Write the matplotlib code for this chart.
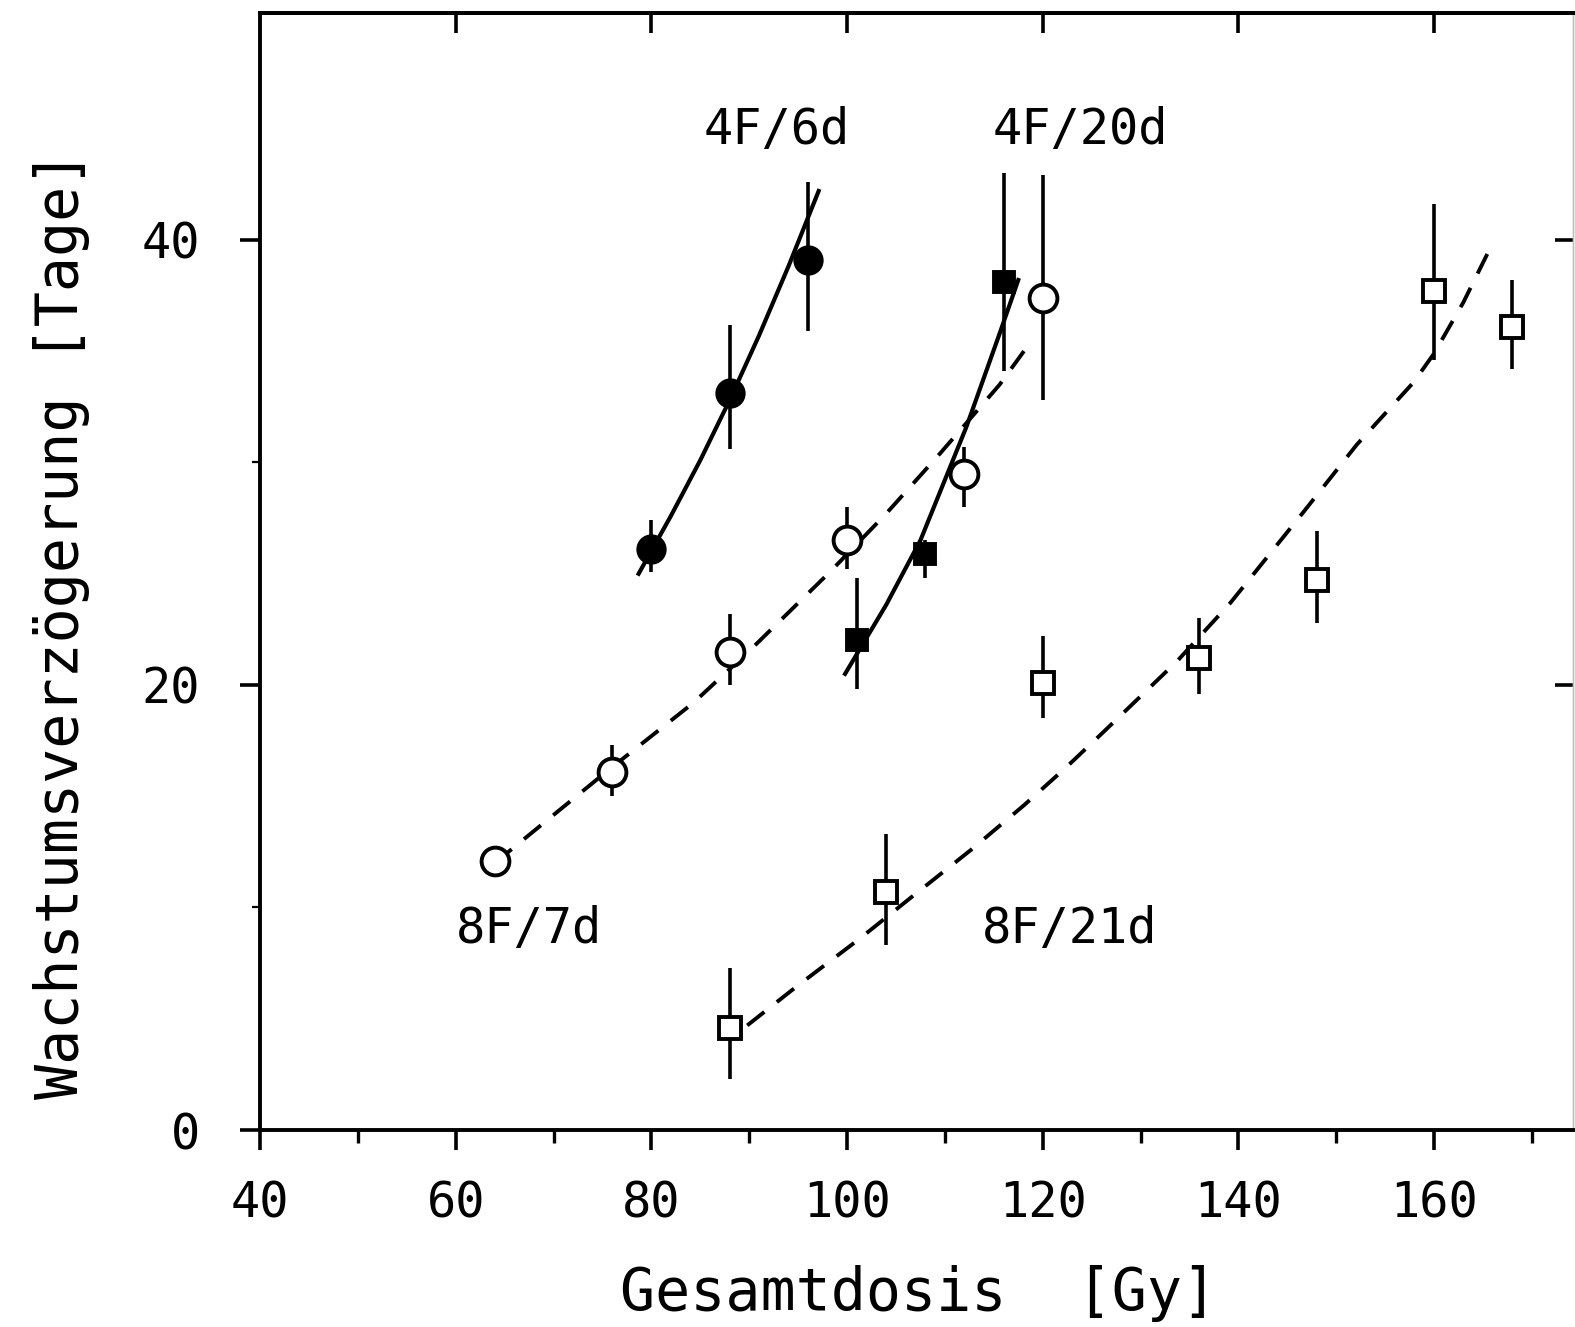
"""Growth delay vs. total dose for four fractionation schedules
(4F/6d, 4F/20d, 8F/7d, 8F/21d) with fitted curves."""
import matplotlib
matplotlib.use("Agg")
import matplotlib.pyplot as plt
from matplotlib.ticker import NullFormatter

plt.rcParams["font.family"] = ["DejaVu Sans Mono", "DejaVu Sans"]

# 1. Data
# 4F/6d  (filled circles, solid fit)
dose_4f6 = [80, 88, 96]
delay_4f6 = [26.1, 33.1, 39.1]
lo_4f6 = [1.0, 2.5, 3.2]
hi_4f6 = [1.3, 3.1, 3.5]
fit_4f6_x = [78.7, 82.0, 85.0, 88.0, 91.0, 94.0, 97.1]
fit_4f6_y = [25.0, 27.6, 30.1, 32.8, 35.7, 38.8, 42.2]

# 4F/20d (filled squares, solid fit)
dose_4f20 = [101, 108, 116]
delay_4f20 = [22.0, 25.9, 38.1]
lo_4f20 = [2.2, 1.1, 4.0]
hi_4f20 = [2.8, 0.6, 4.9]
fit_4f20_x = [99.8, 104.0, 107.5, 112.2, 115.6, 117.5]
fit_4f20_y = [20.5, 23.6, 26.5, 31.6, 35.8, 38.2]

# 8F/7d  (open circles, dashed fit)
dose_8f7 = [64, 76, 88, 100, 112, 120]
delay_8f7 = [12.1, 16.1, 21.5, 26.5, 29.5, 37.4]
lo_8f7 = [0.0, 1.1, 1.5, 1.3, 1.5, 4.6]
hi_8f7 = [0.0, 1.2, 1.7, 1.5, 1.2, 5.5]
fit_8f7_x = [64.0, 75.4, 84.3, 90.4, 98.3, 104.0, 109.5, 115.6, 118.9]
fit_8f7_y = [12.0, 16.1, 19.2, 21.7, 25.1, 27.7, 30.4, 33.5, 35.5]

# 8F/21d (open squares, dashed fit)
dose_8f21 = [88, 104, 120, 136, 148, 160, 168]
delay_8f21 = [4.6, 10.7, 20.1, 21.2, 24.7, 37.7, 36.1]
lo_8f21 = [2.3, 2.4, 1.6, 1.6, 1.9, 3.1, 1.9]
hi_8f21 = [2.7, 2.6, 2.1, 1.8, 2.2, 3.9, 2.1]
fit_8f21_x = [89.8, 94.7, 101.3, 106.4, 112.7, 118.1, 122.4, 126.0, 130.5,
              133.8, 139.2, 146.7, 152.1, 157.9, 160.0, 163.0, 165.7]
fit_8f21_y = [4.7, 6.4, 8.6, 10.4, 12.6, 14.6, 16.3, 17.8, 19.7,
              21.1, 23.7, 27.8, 30.8, 33.6, 34.9, 37.2, 39.6]

# group labels: (text, x, y-baseline)
labels = [("4F/6d", 92.8, 44.3), ("4F/20d", 123.8, 44.3),
          ("8F/7d", 67.5, 8.4), ("8F/21d", 122.7, 8.4)]

# 2. Figure / axes
fig = plt.figure(figsize=(15.75, 13.27), dpi=100)
ax = fig.add_axes([260 / 1575, 1 - 1130 / 1327, 1313 / 1575, 1117 / 1327])
ax.set_xlim(40, 174.2)
ax.set_ylim(0, 50.2)

for s in ("left", "bottom", "top"):
    ax.spines[s].set_linewidth(2.8)
ax.spines["right"].set_color("0.75")
ax.spines["right"].set_linewidth(1.0)

ax.set_xticks(range(40, 161, 20))
ax.set_xticks(range(50, 171, 20), minor=True)
ax.set_yticks([0, 20, 40])
ax.set_yticks([10, 30], minor=True)
ax.tick_params(which="major", direction="out", length=14.4, width=2.6,
               labelsize=35, top=False, right=False)
ax.tick_params(which="minor", direction="out", length=9, width=2.4,
               top=False, right=False)
ax.tick_params(axis="y", which="minor", length=6, width=1.6)
ax.tick_params(axis="x", pad=21)
ax.tick_params(axis="y", pad=29)

# inward ticks on top and right
secx = ax.secondary_xaxis("top")
secx.set_xticks(range(60, 161, 20))
secx.xaxis.set_major_formatter(NullFormatter())
secx.tick_params(direction="in", length=14.4, width=2.6)
secx.spines["top"].set_linewidth(2.8)

secy = ax.secondary_yaxis("right")
secy.set_yticks([20, 40])
secy.yaxis.set_major_formatter(NullFormatter())
secy.tick_params(direction="in", length=13, width=2.6)
secy.spines["right"].set_color("0.75")
secy.spines["right"].set_linewidth(1.0)

# 3. Fit curves
dash = (0, (5.6, 4.1))
ax.plot(fit_4f6_x, fit_4f6_y, color="k", lw=3.0, zorder=2)
ax.plot(fit_4f20_x, fit_4f20_y, color="k", lw=3.0, zorder=2)
ax.plot(fit_8f7_x, fit_8f7_y, color="k", lw=2.8, ls=dash, zorder=2)
ax.plot(fit_8f21_x, fit_8f21_y, color="k", lw=2.8, ls=dash, zorder=2)

# 4. Data points with error bars
series = [
    (dose_4f6, delay_4f6, lo_4f6, hi_4f6, "o", "k", 19),
    (dose_4f20, delay_4f20, lo_4f20, hi_4f20, "s", "k", 15),
    (dose_8f7, delay_8f7, lo_8f7, hi_8f7, "o", "white", 20),
    (dose_8f21, delay_8f21, lo_8f21, hi_8f21, "s", "white", 16.5),
]
for x, y, lo, hi, m, fc, ms in series:
    ax.errorbar(x, y, yerr=[lo, hi], fmt="none", ecolor="k",
                elinewidth=2.6, capsize=0, zorder=3)
    ax.plot(x, y, ls="none", marker=m, ms=ms, mfc=fc, mec="k",
            mew=2.8, zorder=4)

for txt, x, y in labels:
    ax.text(x, y, txt, ha="center", va="baseline", fontsize=35)

# 5. Axis titles
fig.text(919 / 1575, 1 - 1310 / 1327, "Gesamtdosis  [Gy]",
         ha="center", va="baseline", fontsize=42)
fig.text(62 / 1575, 1 - 625 / 1327, "Wachstumsverzögerung [Tage]",
         rotation=90, ha="center", va="center", fontsize=42)

fig.savefig("out.png", dpi=100)
